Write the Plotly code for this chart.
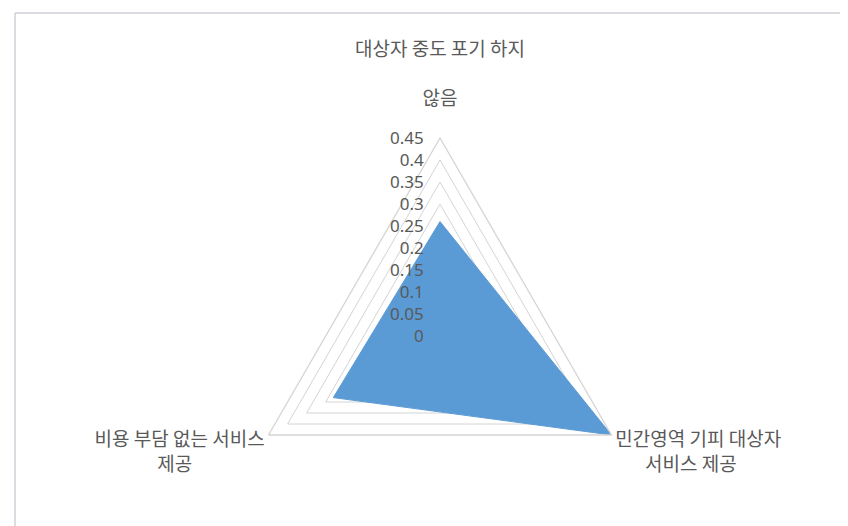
import plotly.graph_objects as go

NB = "\u00a0"
categories = [
    "대상자 중도 포기 하지<br><br>않음<br>" + NB,
    "민간영역 기피 대상자<br>" + NB * 7 + "서비스 제공",
    "비용 부담 없는 서비스<br>제공" + NB * 17,
]
values = [0.26, 0.45, 0.28]
tick_values = [0, 0.05, 0.1, 0.15, 0.2, 0.25, 0.3, 0.35, 0.4, 0.45]
tick_labels = ["0", "0.05", "0.1", "0.15", "0.2", "0.25", "0.3", "0.35", "0.4", "0.45"]

W, H = 848, 526
cx, cy, R = 432, 328, 198

fig = go.Figure()
fig.add_trace(go.Scatterpolar(
    r=values + values[:1],
    theta=categories + categories[:1],
    mode="lines",
    fill="toself",
    fillcolor="#5b9bd5",
    line=dict(color="#5b9bd5", width=1),
    hoverinfo="skip",
    showlegend=False,
))

fig.update_layout(
    width=W, height=H,
    margin=dict(l=0, r=0, t=0, b=0),
    paper_bgcolor="white",
    plot_bgcolor="white",
    font=dict(family="Noto Sans CJK KR, Noto Sans, sans-serif", color="#595959", size=19),
    polar=dict(
        domain=dict(x=[(cx - R) / W, (cx + R) / W], y=[max(0, (H - cy - R) / H), (H - cy + R) / H]),
        bgcolor="white",
        gridshape="linear",
        radialaxis=dict(
            range=[0, 0.45],
            tickvals=tick_values,
            ticktext=[t + NB * 3 for t in tick_labels],
            angle=90,
            side="counterclockwise",
            tickangle=90,
            showline=False,
            ticks="",
            gridcolor="#d4d4d4",
            gridwidth=1.3,
            tickfont=dict(family="Noto Sans, sans-serif", size=17, color="#595959"),
        ),
        angularaxis=dict(
            direction="clockwise",
            rotation=90,
            showgrid=False,
            showline=True,
            linecolor="#d4d4d4",
            linewidth=1.3,
            ticks="",
            tickfont=dict(size=19, color="#595959"),
        ),
    ),
    shapes=[
        dict(type="line", xref="paper", yref="paper", x0=7 / W, x1=7 / W, y0=0, y1=1 - 5 / H,
             line=dict(color="#cfcfd9", width=1.5)),
        dict(type="line", xref="paper", yref="paper", x0=7 / W, x1=1, y0=1 - 5 / H, y1=1 - 5 / H,
             line=dict(color="#cfcfd9", width=1.5)),
    ],
)

fig.write_html("out.html")
